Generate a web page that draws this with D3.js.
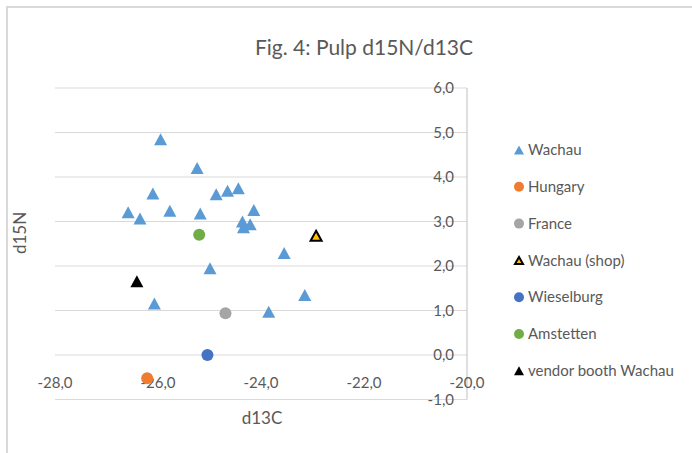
<!DOCTYPE html>
<html>
<head>
<meta charset="utf-8">
<script src="https://cdn.jsdelivr.net/npm/d3@7"></script>
<style>
  body { margin: 0; background: #fff; }
  svg { display: block; font-family: Lato, "Open Sans", sans-serif; }
  text { fill: #595959; }
</style>
</head>
<body>
<svg width="692" height="453"></svg>
<script>
// series values (d13C, d15N)
var wachauX = [-25.95, -25.24, -26.10, -24.87, -24.65, -24.44, -26.58, -26.35, -25.77, -25.18,
               -24.14, -24.36, -24.21, -24.34, -23.55, -24.99, -26.07, -23.85, -23.15];
var wachauY = [4.85, 4.20, 3.63, 3.61, 3.69, 3.75, 3.21, 3.07, 3.24, 3.18,
               3.26, 3.00, 2.94, 2.87, 2.29, 1.95, 1.16, 0.97, 1.35];
var hungaryX = [-26.21], hungaryY = [-0.52];
var franceX = [-24.69], franceY = [0.94];
var shopX = [-22.93], shopY = [2.68];
var wieselburgX = [-25.04], wieselburgY = [0.00];
var amstettenX = [-25.20], amstettenY = [2.70];
var vendorX = [-26.41], vendorY = [1.66];

var seriesNames = ["Wachau", "Hungary", "France", "Wachau (shop)", "Wieselburg", "Amstetten", "vendor booth Wachau"];
var xTicks = [-28, -26, -24, -22, -20];
var yTicks = [-1, 0, 1, 2, 3, 4, 5, 6];

var series = [
  { name: seriesNames[0], xs: wachauX, ys: wachauY, shape: "tri", fill: "#5b9bd5", stroke: "none" },
  { name: seriesNames[1], xs: hungaryX, ys: hungaryY, shape: "circle", fill: "#ed7d31", stroke: "none" },
  { name: seriesNames[2], xs: franceX, ys: franceY, shape: "circle", fill: "#a5a5a5", stroke: "none" },
  { name: seriesNames[3], xs: shopX, ys: shopY, shape: "tri", fill: "#ffc000", stroke: "#000" },
  { name: seriesNames[4], xs: wieselburgX, ys: wieselburgY, shape: "circle", fill: "#4472c4", stroke: "none" },
  { name: seriesNames[5], xs: amstettenX, ys: amstettenY, shape: "circle", fill: "#70ad47", stroke: "none" },
  { name: seriesNames[6], xs: vendorX, ys: vendorY, shape: "tri", fill: "#000", stroke: "none" }
];

var svg = d3.select("svg");
var fmt = function(v) { return d3.format(".1f")(v).replace(".", ",").replace("−", "-"); };

var x = d3.scaleLinear().domain([-28, -20]).range([55, 467]);
var y = d3.scaleLinear().domain([-1, 6]).range([399.5, 88]);

// outer frame
svg.append("line").attr("x1", 6).attr("x2", 692).attr("y1", 7).attr("y2", 7)
    .attr("stroke", "#d9d9d9").attr("stroke-width", 2);
svg.append("line").attr("x1", 7).attr("x2", 7).attr("y1", 6).attr("y2", 453)
    .attr("stroke", "#d9d9d9").attr("stroke-width", 2);

// title
svg.append("text").attr("x", 364).attr("y", 55).attr("text-anchor", "middle")
    .style("font-size", "21px").text("Fig. 4: Pulp d15N/d13C");

// gridlines
svg.append("g").selectAll("line").data(yTicks).enter().append("line")
    .attr("x1", x(-28)).attr("x2", x(-20))
    .attr("y1", function(d) { return y(d); }).attr("y2", function(d) { return y(d); })
    .attr("stroke", "#d9d9d9").attr("stroke-width", 1);

// vertical axis sits at x = -20
svg.append("line").attr("x1", x(-20)).attr("x2", x(-20)).attr("y1", y(6)).attr("y2", y(-1))
    .attr("stroke", "#bfbfbf").attr("stroke-width", 1);

// y tick labels
svg.append("g").selectAll("text").data(yTicks).enter().append("text")
    .attr("x", 454).attr("y", function(d) { return y(d); }).attr("dy", "0.35em")
    .attr("text-anchor", "end").style("font-size", "15px")
    .text(function(d) { return fmt(d); });

// x tick labels, next to the axis at y = 0
svg.append("g").selectAll("text").data(xTicks).enter().append("text")
    .attr("x", function(d) { return x(d); }).attr("y", 388)
    .attr("text-anchor", "middle").style("font-size", "15px")
    .text(function(d) { return fmt(d); });

// axis titles
svg.append("text").attr("x", 262).attr("y", 424).attr("text-anchor", "middle")
    .style("font-size", "17px").text("d13C");
svg.append("text").attr("transform", "translate(26,233) rotate(-90)").attr("text-anchor", "middle")
    .style("font-size", "17px").text("d15N");

function triPath(cx, cy, w, h) {
  return "M" + cx + "," + (cy - h / 2) + "L" + (cx + w / 2) + "," + (cy + h / 2) +
         "L" + (cx - w / 2) + "," + (cy + h / 2) + "Z";
}

function drawMarker(g, s, cx, cy, size) {
  if (s.shape == "circle") {
    g.append("circle").attr("cx", cx).attr("cy", cy).attr("r", size / 2)
        .attr("fill", s.fill);
  } else {
    var sw = s.stroke == "none" ? 0 : 2;
    g.append("path").attr("d", triPath(cx, cy, size - sw, size - sw - 1))
        .attr("fill", s.fill).attr("stroke", s.stroke).attr("stroke-width", sw)
        .attr("stroke-linejoin", "miter");
  }
}

// points
var pts = svg.append("g");
series.forEach(function(s) {
  for (var i = 0; i < s.xs.length; i++) {
    drawMarker(pts, s, x(s.xs[i]), y(s.ys[i]), s.shape == "circle" ? 12 : 13);
  }
});

// legend
var legend = svg.append("g");
series.forEach(function(s, i) {
  var ly = 150 + i * 36.8;
  drawMarker(legend, s, 519, ly, 10);
  legend.append("text").attr("x", 528).attr("y", ly).attr("dy", "0.35em")
      .style("font-size", "15px").text(s.name);
});
</script>
</body>
</html>
